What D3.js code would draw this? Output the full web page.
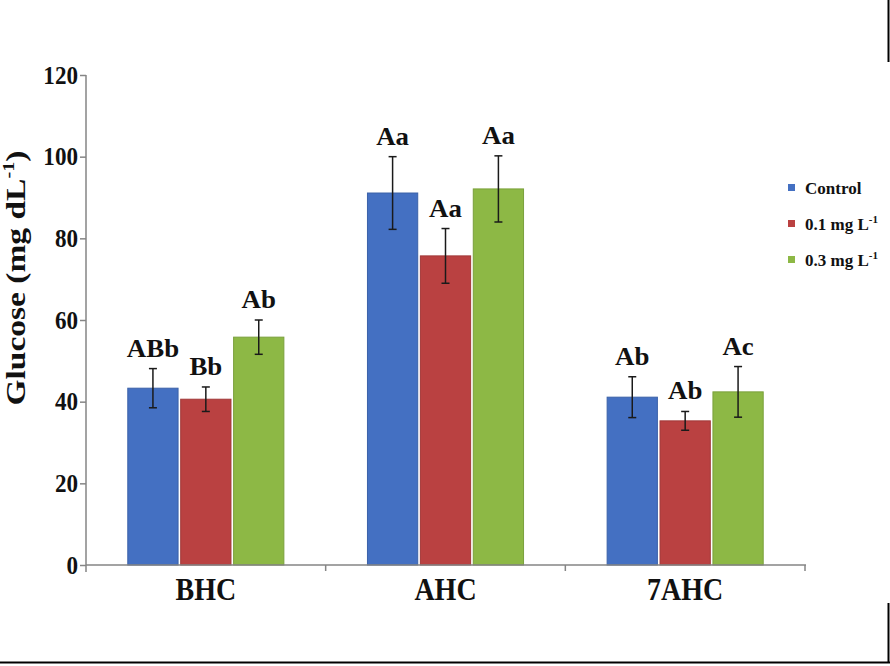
<!DOCTYPE html>
<html><head><meta charset="utf-8">
<script src="https://cdn.jsdelivr.net/npm/d3@7"></script>
<style>body{margin:0;background:#fff}svg{display:block}text{font-family:"Liberation Serif","Times New Roman",serif;font-weight:bold;fill:#111}</style>
</head><body>
<svg id="c" width="890" height="666"></svg>
<script>
const categories = ["BHC","AHC","7AHC"];
const seriesNames = ["Control","0.1 mg L","0.3 mg L"];
const seriesSup = ["","-1","-1"];
const colors = ["#4470C2","#BA4141","#8DB845"];
const control = [43.3, 91.1, 41.1];
const low = [40.6, 75.7, 35.3];
const high = [55.8, 92.1, 42.4];
const controlErr = [4.8, 8.9, 5.0];
const lowErr = [3.0, 6.7, 2.3];
const highErr = [4.2, 8.1, 6.2];
const controlLabels = ["ABb","Aa","Ab"];
const lowLabels = ["Bb","Aa","Ab"];
const highLabels = ["Ab","Aa","Ac"];
const yTicks = [0,20,40,60,80,100,120];

const values = [control, low, high];
const errs = [controlErr, lowErr, highErr];
const labels = [controlLabels, lowLabels, highLabels];

const svg = d3.select("#c");
const y = d3.scaleLinear().domain([0,120]).range([565,75]);
const x0 = d3.scaleBand().domain(categories).range([86,805]);
const x1 = d3.scaleBand().domain(d3.range(3)).range([0,x0.bandwidth()]).paddingInner(0.05).paddingOuter(0.79);

// border lines
const bc = "#000";
svg.append("line").attr("x1",888.5).attr("x2",888.5).attr("y1",0).attr("y2",62).attr("stroke",bc).attr("stroke-width",2);
svg.append("line").attr("x1",888.5).attr("x2",888.5).attr("y1",603).attr("y2",663).attr("stroke",bc).attr("stroke-width",2);
svg.append("line").attr("x1",0).attr("x2",890).attr("y1",662.5).attr("y2",662.5).attr("stroke",bc).attr("stroke-width",2);

// bars
const data = [];
categories.forEach((c,i)=>{ for(let s=0;s<3;s++) data.push({c, s, v:values[s][i], e:errs[s][i], l:labels[s][i]}); });
const g = svg.append("g");
g.selectAll("rect").data(data).enter().append("rect")
  .attr("x",d=>x0(d.c)+x1(d.s)).attr("width",x1.bandwidth())
  .attr("y",d=>y(d.v)).attr("height",d=>y(0)-y(d.v))
  .attr("fill",d=>colors[d.s]).attr("stroke",d=>d3.color(colors[d.s]).darker(0.4)).attr("stroke-width",1);

// axes
const ac = "#858585";
const yAxis = d3.axisLeft(y).tickValues(yTicks).tickSize(6).tickFormat(d3.format("d"));
const ya = svg.append("g").attr("transform","translate(86,0)").call(yAxis);
ya.select(".domain").attr("stroke",ac).attr("stroke-width",1.5).attr("d","M0,75V572");
ya.selectAll(".tick line").attr("stroke",ac).attr("stroke-width",1.5);
ya.selectAll(".tick text").attr("x",0).attr("dy",null).attr("text-anchor","end")
  .attr("transform","translate(-8,8) scale(1.05,1.1)").style("font-size","22px")
  .attr("font-family",null).attr("fill","#111");

const xa = svg.append("g").attr("transform","translate(0,565)");
xa.append("line").attr("x1",86).attr("x2",806).attr("y1",0).attr("y2",0).attr("stroke",ac).attr("stroke-width",1.5);
xa.selectAll("line.t").data(categories).enter().append("line").attr("class","t")
  .attr("x1",d=>x0(d)+x0.bandwidth()).attr("x2",d=>x0(d)+x0.bandwidth()).attr("y1",0).attr("y2",6)
  .attr("stroke",ac).attr("stroke-width",1.5);
xa.selectAll("text").data(categories).enter().append("text")
  .attr("text-anchor","middle")
  .attr("transform",d=>`translate(${x0(d)+x0.bandwidth()/2},35) scale(1,1.1)`)
  .style("font-size","28px").text(d=>d);

// error bars
const eg = svg.append("g").attr("stroke","#1a1a1a").attr("stroke-width",1.5);
data.forEach(d=>{
  const cx = x0(d.c)+x1(d.s)+x1.bandwidth()/2;
  const t = y(d.v+d.e), b = y(d.v-d.e);
  eg.append("line").attr("x1",cx).attr("x2",cx).attr("y1",t).attr("y2",b);
  eg.append("line").attr("x1",cx-4).attr("x2",cx+4).attr("y1",t).attr("y2",t);
  eg.append("line").attr("x1",cx-4).attr("x2",cx+4).attr("y1",b).attr("y2",b);
});

// letter labels
svg.append("g").selectAll("text").data(data).enter().append("text")
  .attr("text-anchor","middle").style("font-size","24px")
  .attr("transform",d=>{const cx=x0(d.c)+x1(d.s)+x1.bandwidth()/2; return `translate(${cx},${y(d.v+d.e)-12}) scale(1.12,1.05)`;})
  .text(d=>d.l);

// y title
const yt = svg.append("text").attr("text-anchor","middle").style("font-size","28px");
yt.append("tspan").text("Glucose (mg dL");
yt.append("tspan").attr("dy",-11).style("font-size","17px").text("-1");
yt.append("tspan").attr("dy",11).text(")");
const len = yt.node().getComputedTextLength();
yt.attr("transform",`translate(25,278) rotate(-90) scale(${255/len},1)`);

// legend
const lg = svg.append("g");
seriesNames.forEach((n,i)=>{
  const yy = 188 + i*36;
  lg.append("rect").attr("x",788).attr("y",yy-4).attr("width",7).attr("height",7).attr("fill",colors[i]);
  const t = lg.append("text").attr("x",805).attr("y",yy+6).style("font-size","17px");
  t.append("tspan").text(n);
  if(seriesSup[i]) t.append("tspan").attr("dy",-7).style("font-size","11px").text(seriesSup[i]);
});
</script>
</body></html>
